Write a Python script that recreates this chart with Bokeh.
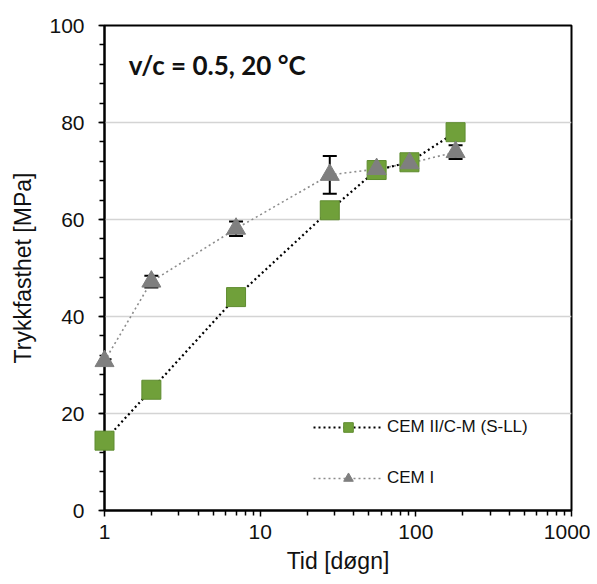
from bokeh.plotting import figure
from bokeh.models import (Range1d, FixedTicker, PrintfTickFormatter, Whisker, TeeHead,
                          ColumnDataSource, Label, Legend, LegendItem)
from bokeh.embed import file_html
from bokeh.resources import INLINE

# ---- data ----
days = [1, 2, 7, 28, 56, 91, 180]
cem2_vals = [14.4, 24.9, 44.0, 61.9, 70.2, 71.8, 78.0]
cem1_vals = [30.8, 47.2, 58.1, 69.2, 70.4, 71.6, 73.9]
cem1_err = [0.4, 1.2, 1.5, 3.9, 0.4, 0.4, 1.4]
cem2_label = "CEM II/C-M (S-LL)"
cem1_label = "CEM I"
title_text = "v/c = 0.5, 20 \u00b0C"
x_major = [1, 10, 100, 1000]
x_minor = [m * d for d in [1, 10, 100] for m in range(2, 10)]
y_ticks = [0, 20, 40, 60, 80, 100]

GREEN = "#70A03A"
GREEN_EDGE = "#5F8C30"
GRAY = "#7F7F7F"

p = figure(width=590, height=580, x_axis_type="log",
           x_range=Range1d(1, 1000), y_range=Range1d(0, 100),
           output_backend="svg", toolbar_location=None,
           min_border_left=104, min_border_right=19, min_border_top=25, min_border_bottom=70)

p.outline_line_color = "black"
p.outline_line_width = 2
p.background_fill_color = "white"
p.border_fill_color = "white"

# grid
p.xgrid.visible = False
p.ygrid.grid_line_color = "#d4d4d4"
p.ygrid.grid_line_width = 1.5

# axes
p.xaxis.ticker = FixedTicker(ticks=x_major, minor_ticks=x_minor)
p.xaxis.formatter = PrintfTickFormatter(format="%d")
p.yaxis.ticker = FixedTicker(ticks=y_ticks, minor_ticks=list(range(0, 101, 4)))
for ax in (p.xaxis[0], p.yaxis[0]):
    ax.axis_line_color = "black"
    ax.axis_line_width = 2
    ax.major_tick_line_color = "black"
    ax.minor_tick_line_color = "black"
    ax.major_tick_line_width = 1.5
    ax.minor_tick_line_width = 1.5
    ax.major_tick_in = 0
    ax.minor_tick_in = 0
    ax.major_tick_out = 6
    ax.minor_tick_out = 5
    ax.major_label_text_font = "Liberation Sans"
    ax.major_label_text_font_size = "21px"
    ax.major_label_text_color = "#111111"
    ax.axis_label_text_font = "Liberation Sans"
    ax.axis_label_text_font_size = "23px"
    ax.axis_label_text_font_style = "normal"
    ax.axis_label_text_color = "#111111"

p.xaxis.axis_label = "Tid [d\u00f8gn]"
p.yaxis.axis_label = "Trykkfasthet [MPa]"
p.xaxis.major_label_standoff = 8
p.xaxis.axis_label_standoff = 6
p.yaxis.major_label_standoff = 14
p.yaxis.axis_label_standoff = 10

# series
src2 = ColumnDataSource(dict(x=days, y=cem2_vals))
upper = [v + e for v, e in zip(cem1_vals, cem1_err)]
lower = [v - e for v, e in zip(cem1_vals, cem1_err)]
src1 = ColumnDataSource(dict(x=days, y=cem1_vals, upper=upper, lower=lower))

l2 = p.line("x", "y", source=src2, line_color="black", line_width=2.2, line_dash="2 3")
m2 = p.scatter("x", "y", source=src2, marker="square", size=19,
               fill_color=GREEN, line_color=GREEN_EDGE, line_width=1, level="overlay")

wh = Whisker(base="x", upper="upper", lower="lower", source=src1,
             line_color="black", line_width=2, level="annotation",
             upper_head=TeeHead(size=14, line_color="black", line_width=2),
             lower_head=TeeHead(size=14, line_color="black", line_width=2))
p.add_layout(wh)

l1 = p.line("x", "y", source=src1, line_color="#8C8C8C", line_width=1.6, line_dash="2 3")
m1 = p.scatter("x", "y", source=src1, marker="triangle", size=19,
               fill_color=GRAY, line_color=GRAY, line_width=1, level="overlay")

legend = Legend(items=[LegendItem(label=cem2_label, renderers=[l2, m2]),
                       LegendItem(label=cem1_label, renderers=[l1, m1])],
                location=(209, 20), orientation="vertical",
                glyph_width=70, glyph_height=24, spacing=27, padding=4,
                label_standoff=4, label_text_font="Liberation Sans",
                label_text_font_size="17px", label_text_color="#111111",
                border_line_color=None, background_fill_alpha=0)
p.add_layout(legend)

title = Label(x=1.43, y=91.8, text=title_text, text_font="Lato", text_font_style="bold",
              text_font_size="26px", text_color="#111111", text_baseline="alphabetic")
p.add_layout(title)

open("out.html", "w").write(file_html(p, INLINE))
